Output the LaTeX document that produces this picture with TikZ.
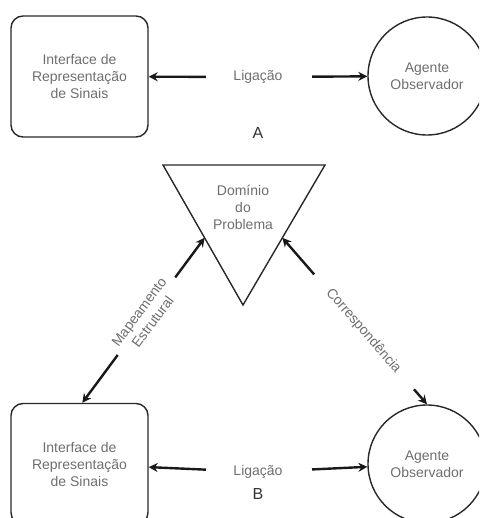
\documentclass[tikz,border=0pt]{standalone}
\usepackage{fontspec}
\setmainfont{Liberation Sans}
\usetikzlibrary{arrows.meta,calc}
\definecolor{txtgray}{RGB}{110,110,110}
\definecolor{edgegray}{RGB}{40,40,40}

\begin{document}
\begin{tikzpicture}[x=1pt, y=-1pt,
    every node/.style={font=\fontsize{14}{17}\selectfont, text=txtgray, align=center},
    sinbox/.style={draw=edgegray, line width=1.4pt, rounded corners=12pt, minimum width=137pt, minimum height=121pt},
    agent/.style={draw=edgegray, line width=1.4pt, circle, minimum size=118pt},
    link/.style={-{Stealth[length=9pt, width=9pt, inset=3pt]}, line width=2.4pt, black!90},
    tag/.style={font=\fontsize{16}{19}\selectfont, text=black!80}]

    \useasboundingbox (0,0) rectangle (479,518);
    \clip (0,0) rectangle (479,518);

    % Part A
    \node[sinbox] (boxA) at (79.5,76.5) {Interface de\\Representação\\de Sinais};
    \node[agent] (agA) at (427,76) {Agente\\Observador};
    \node (ligA) at (258,77) {Ligação};
    \draw[link, shorten <=24pt] (ligA) -- (boxA);
    \draw[link, shorten <=26pt] (ligA) -- (agA);
    \node[tag] (tagA) at (258,133) {A};

    % Part B
    \node[sinbox] (boxB) at (79.5,464) {Interface de\\Representação\\de Sinais};
    \node[agent] (agB) at (427,464) {Agente\\Observador};
    \node (ligB) at (258,472) {Ligação};
    \draw[link, shorten <=24pt] (ligB) -- (boxB);
    \draw[link, shorten <=26pt] (ligB) -- (agB);
    \node[tag] (tagB) at (258,494) {B};

    % Problem domain (triangle)
    \coordinate (T1) at (163,165);
    \coordinate (T2) at (325,165);
    \coordinate (T3) at (243,305);
    \draw[line width=1.4pt, edgegray] (T1) -- (T2) -- (T3) -- cycle;
    \node (dom) at (243,207) {Domínio\\do\\Problema};

    % end points on the shapes
    \coordinate (eL) at ($(T1)!0.52!(T3)$);
    \coordinate (eR) at ($(T2)!0.52!(T3)$);
    \coordinate (mB) at ($(boxB.north west)!0.52!(boxB.north east)$);
    \coordinate (aB) at (agB.north);

    % Mapeamento Estrutural
    \coordinate (mapTop) at ($(eL)!0.24!(mB)$);
    \coordinate (mapBot) at ($(eL)!0.71!(mB)$);
    \draw[link] (mapTop) -- (eL);
    \draw[link] (mapBot) -- (mB);
    \path (eL) -- (mB) node[pos=0.48, sloped] (map) {Mapeamento\\Estrutural};

    % Correspondencia
    \coordinate (corTop) at ($(eR)!0.22!(aB)$);
    \coordinate (corBot) at ($(eR)!0.91!(aB)$);
    \draw[link] (corTop) -- (eR);
    \draw[link] (corBot) -- (aB);
    \path (eR) -- (aB) node[pos=0.56, sloped] (cor) {Correspondência};

\end{tikzpicture}
\end{document}
